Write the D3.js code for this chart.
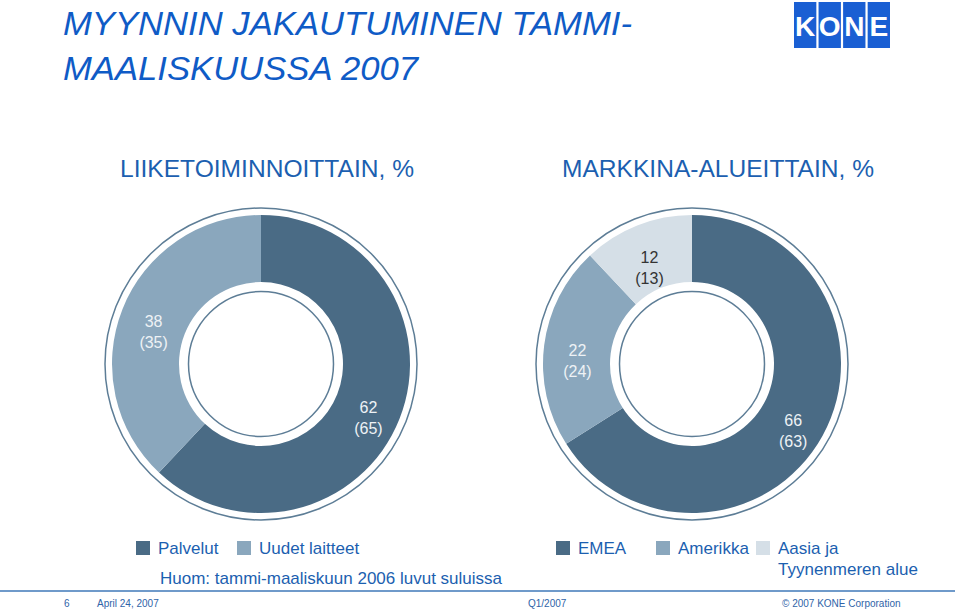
<!DOCTYPE html>
<html><head><meta charset="utf-8">
<script src="https://cdn.jsdelivr.net/npm/d3@7/dist/d3.min.js"></script>
<style>
html,body{margin:0;padding:0;background:#fff;}
svg{display:block;font-family:"Liberation Sans",Arial,sans-serif;}
</style></head>
<body>
<svg id="c" width="960" height="612"></svg>
<script>
// ---- data ----
const titleLines = ["MYYNNIN JAKAUTUMINEN TAMMI-", "MAALISKUUSSA 2007"];
const businessCategories = ["Palvelut", "Uudet laitteet"];
const businessValues = [62, 38];
const businessPrev = [65, 35];
const marketCategories = ["EMEA", "Amerikka", "Aasia ja Tyynenmeren alue"];
const marketValues = [66, 22, 12];
const marketPrev = [63, 24, 13];
const chartTitles = ["LIIKETOIMINNOITTAIN, %", "MARKKINA-ALUEITTAIN, %"];
const note = "Huom: tammi-maaliskuun 2006 luvut suluissa";
const footer = {page: "6", date: "April 24, 2007", period: "Q1/2007", copy: "© 2007 KONE Corporation"};

const svg = d3.select("#c");
const BLUE = "#0f5bc6";
const TEXTBLUE = "#1c5fb0";
const sliceColors = ["#4a6b85", "#8aa7bd", "#d5dfe7"];
const labelColors = ["#eef2f5", "#eef2f5", "#333333"];

// title
const titleW = [569, 355];
svg.selectAll("text.title").data(titleLines).join("text").attr("class", "title")
  .attr("x", 63).attr("y", (d, i) => 35 + i * 45)
  .attr("font-size", 33).attr("font-style", "italic").attr("fill", BLUE)
  .attr("textLength", (d, i) => titleW[i]).attr("lengthAdjust", "spacingAndGlyphs")
  .text(d => d);

// logo
const logo = svg.append("g");
const letters = ["K", "O", "N", "E"];
const lx = d3.scaleBand().domain(d3.range(4)).range([794, 890]).paddingInner(0.09);
logo.selectAll("rect").data(letters).join("rect")
  .attr("x", (d, i) => lx(i)).attr("y", 2).attr("width", lx.bandwidth()).attr("height", 46)
  .attr("fill", "#1a5fd3");
logo.selectAll("text").data(letters).join("text")
  .attr("x", (d, i) => lx(i) + lx.bandwidth() / 2).attr("y", 35.5)
  .attr("text-anchor", "middle").attr("font-size", 28).attr("font-weight", "bold")
  .attr("fill", "#fff").text(d => d);

// subtitles
const centers = [[261, 364], [692, 364]];
const subX = [120, 562], subW = [294, 312];
svg.selectAll("text.sub").data(chartTitles).join("text").attr("class", "sub")
  .attr("x", (d, i) => subX[i]).attr("y", 177)
  .attr("font-size", 23).attr("fill", TEXTBLUE)
  .attr("textLength", (d, i) => subW[i]).attr("lengthAdjust", "spacingAndGlyphs")
  .text(d => d);

function donut(cx, cy, values, prev) {
  const g = svg.append("g").attr("transform", `translate(${cx},${cy})`);
  const pie = d3.pie().sort(null).value(d => d)(values);
  const arc = d3.arc().innerRadius(82).outerRadius(149);
  g.append("circle").attr("r", 156).attr("fill", "none").attr("stroke", "#5d7d96").attr("stroke-width", 1.5);
  g.selectAll("path").data(pie).join("path")
    .attr("d", arc).attr("fill", (d, i) => sliceColors[i]);
  g.append("circle").attr("r", 72.5).attr("fill", "none").attr("stroke", "#5d7d96").attr("stroke-width", 1.5);
  pie.forEach((d, i) => {
    const [x, y] = arc.centroid(d);
    const t = g.append("text").attr("text-anchor", "middle").attr("font-size", 16)
      .attr("fill", labelColors[i]);
    t.append("tspan").attr("x", x).attr("y", y + 6).text(values[i]);
    t.append("tspan").attr("x", x).attr("y", y + 27).text(`(${prev[i]})`);
  });
}
donut(centers[0][0], centers[0][1], businessValues, businessPrev);
donut(centers[1][0], centers[1][1], marketValues, marketPrev);

// legends
function legend(items, xs) {
  items.forEach((name, i) => {
    svg.append("rect").attr("x", xs[i]).attr("y", 541).attr("width", 14).attr("height", 14)
      .attr("fill", sliceColors[i]);
    const t = svg.append("text").attr("x", xs[i] + 22).attr("y", 554)
      .attr("font-size", 17).attr("fill", TEXTBLUE);
    const parts = name === "Aasia ja Tyynenmeren alue" ? ["Aasia ja", "Tyynenmeren alue"] : [name];
    parts.forEach((p, j) => t.append("tspan").attr("x", xs[i] + 22).attr("dy", j ? 21 : 0).text(p));
  });
}
legend(businessCategories, [136, 237]);
legend(marketCategories, [556, 656, 756]);
svg.append("text").attr("x", 160).attr("y", 584).attr("font-size", 17).attr("fill", TEXTBLUE).text(note);

// footer
svg.append("line").attr("x1", 0).attr("x2", 955).attr("y1", 591).attr("y2", 591)
  .attr("stroke", "#3f78b8").attr("stroke-width", 1.5);
const ft = [[64, footer.page], [97, footer.date], [528, footer.period], [782, footer.copy]];
svg.selectAll("text.ft").data(ft).join("text").attr("class", "ft")
  .attr("x", d => d[0]).attr("y", 607).attr("font-size", 10).attr("fill", "#2f64a8")
  .text(d => d[1]);
</script>
</body></html>
